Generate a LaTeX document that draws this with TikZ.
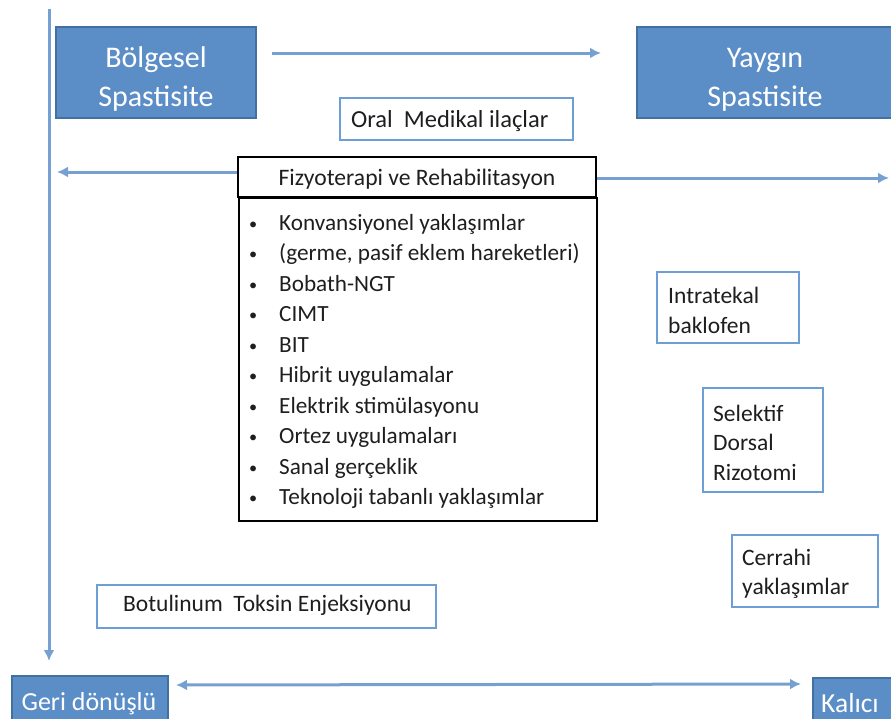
\documentclass[tikz,border=0pt]{standalone}
\usepackage{fontspec}
\setmainfont{Carlito}
\usetikzlibrary{arrows.meta}

\definecolor{boxfill}{RGB}{91,141,199}
\definecolor{boxedge}{RGB}{65,113,160}
\definecolor{flow}{RGB}{118,160,210}
\definecolor{thinedge}{RGB}{110,158,214}
\definecolor{ink}{RGB}{30,30,30}

\tikzset{
  bigbox/.style={draw=boxedge, line width=1.2pt, fill=boxfill, inner sep=0pt},
  bigtext/.style={text=white, inner sep=0pt, anchor=base,
    font=\fontsize{30}{39}\selectfont},
  endtext/.style={text=white, inner sep=0pt, anchor=base,
    font=\fontsize{26}{30}\selectfont},
  textbox/.style={draw=thinedge, line width=1.5pt, fill=white, inner sep=0pt},
  boxtext/.style={text=ink, inner sep=0pt, anchor=base west,
    font=\fontsize{23.5}{30}\selectfont},
  listbox/.style={draw=black, line width=2pt, inner sep=0pt},
  itemtext/.style={text=ink, inner sep=0pt, anchor=base west,
    font=\fontsize{23.2}{30}\selectfont},
  flowline/.style={draw=flow, line width=3pt,
    -{Latex[length=11pt,width=11pt]}},
  flowboth/.style={draw=flow, line width=3pt,
    {Latex[length=11pt,width=11pt]}-{Latex[length=11pt,width=11pt]}},
}
\newcommand{\smallbullet}{\raisebox{1pt}{\scalebox{0.7}{•}}}
\newcommand{\stack}[2][l]{\begin{tabular}[t]{@{}#1@{}}#2\end{tabular}}

\begin{document}
\begin{tikzpicture}[x=1pt,y=-1pt]
  \useasboundingbox (0,0) rectangle (891,718);

  % spasticity extent: regional vs. diffuse
  \node[bigbox, minimum width=200pt, minimum height=91pt] (bolg) at (156,72.5) {};
  \node[bigtext] (bolgtext) at (156,67) {\stack[c]{Bölgesel\\Spastisite}};
  \node[bigbox, minimum width=256pt, minimum height=91pt] (yayg) at (765,72.5) {};
  \node[bigtext] (yaygtext) at (765,67) {\stack[c]{Yaygın\\Spastisite}};

  % oral medication
  \node[textbox, minimum width=233pt, minimum height=42pt] (oral) at (456.5,119) {};
  \node[boxtext, font=\fontsize{24.5}{30}\selectfont] (oraltext) at (351,127)
    {Oral\ \ Medikal ilaçlar};

  % physiotherapy box: header and list
  \node[listbox, minimum width=358pt, minimum height=40pt] (fizhead) at (417,177) {};
  \node[boxtext, anchor=base, font=\fontsize{23.6}{28}\selectfont] (fiztext)
    at (417,185) {Fizyoterapi ve Rehabilitasyon};
  \node[listbox, minimum width=358pt, minimum height=323pt, anchor=north west]
    (fizlist) at (238,197) {};
  \foreach \t [count=\i from 0] in {Konvansiyonel yaklaşımlar,
      {(germe, pasif eklem hareketleri)}, Bobath-NGT, CIMT, BIT,
      Hibrit uygulamalar, Elektrik stimülasyonu, Ortez uygulamaları,
      Sanal gerçeklik, Teknoloji tabanlı yaklaşımlar}
    \node[itemtext] (item\i) at (249,230+30.55*\i)
      {\makebox[30pt][l]{\smallbullet}\t};

  % right-hand options
  \node[textbox, minimum width=142pt, minimum height=71pt] (itb) at (728,307.5) {};
  \node[boxtext] (itbtext) at (668,303) {\stack{Intratekal\\baklofen}};
  \node[textbox, minimum width=120pt, minimum height=104pt] (sdr) at (763,440) {};
  \node[boxtext, font=\fontsize{23.5}{29.5}\selectfont] (sdrtext) at (713,421)
    {\stack{Selektif\\Dorsal\\Rizotomi}};
  \node[textbox, minimum width=146pt, minimum height=72pt] (cerr) at (805,571) {};
  \node[boxtext, font=\fontsize{23.5}{29}\selectfont] (cerrtext) at (742,565)
    {\stack{Cerrahi\\yaklaşımlar}};

  % botulinum toxin
  \node[textbox, minimum width=339pt, minimum height=43pt] (btx) at (266.5,606.5) {};
  \node[boxtext] (btxtext) at (123,611) {Botulinum\ \ Toksin Enjeksiyonu};

  % reversibility
  \node[bigbox, minimum width=156pt, minimum height=50pt] (geri) at (90,701) {};
  \node[endtext] (geritext) at (89,710) {Geri dönüşlü};
  \node[bigbox, minimum width=80pt, minimum height=50pt] (kalici) at (853,703) {};
  \node[endtext, font=\fontsize{27.5}{30}\selectfont] (kalicitext) at (850,712) {Kalıcı};

  % connectors
  \coordinate (topstart) at (272,53);
  \coordinate (topend) at (601,53);
  \coordinate (leftend) at (57,172);
  \coordinate (rightend) at (889,178);
  \coordinate (axistop) at (49,9);
  \coordinate (axisend) at (49,661);
  \coordinate (revleft) at (176,685);
  \coordinate (revright) at (801,684);

  \draw[flowline] (topstart) -- (topend);
  \draw[flowline] (fizhead.west |- leftend) -- (leftend);
  \draw[flowline] (fizhead.east |- rightend) -- (rightend);
  \draw[flowline] (axistop) -- (axisend);
  \draw[flowboth] (revleft) -- (revright);
\end{tikzpicture}
\end{document}
